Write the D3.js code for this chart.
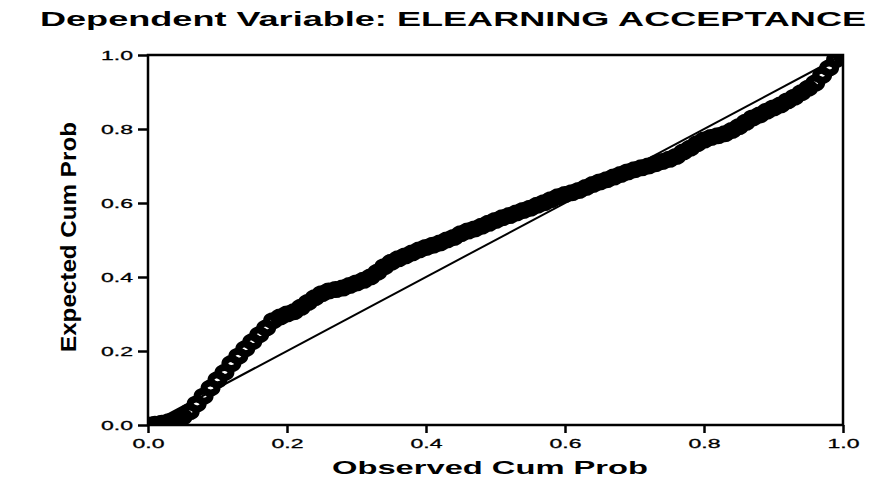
<!DOCTYPE html>
<html>
<head>
<meta charset="utf-8">
<script src="https://cdn.jsdelivr.net/npm/d3@7"></script>
<style>
  body { margin: 0; background: #fff; }
  text { font-family: 'Liberation Sans', Arial, sans-serif; fill: #000; }
</style>
</head>
<body>
<div class="chart"></div>
<script>
const svgWidth = 870;
const svgHeight = 477;

const margin = { top: 55, right: 27, bottom: 52, left: 148 };

const width = svgWidth - margin.left - margin.right;
const height = svgHeight - margin.top - margin.bottom;

// observed cumulative probability (x) of each case
const observed = [
  0.00, 0.01, 0.02, 0.03, 0.04, 0.05, 0.06, 0.07, 0.08, 0.09,
  0.10, 0.11, 0.12, 0.13, 0.14, 0.15, 0.16, 0.17, 0.18, 0.19,
  0.20, 0.21, 0.22, 0.23, 0.24, 0.25, 0.26, 0.27, 0.28, 0.29,
  0.30, 0.31, 0.32, 0.33, 0.34, 0.35, 0.36, 0.37, 0.38, 0.39,
  0.40, 0.41, 0.42, 0.43, 0.44, 0.45, 0.46, 0.47, 0.48, 0.49,
  0.50, 0.51, 0.52, 0.53, 0.54, 0.55, 0.56, 0.57, 0.58, 0.59,
  0.60, 0.61, 0.62, 0.63, 0.64, 0.65, 0.66, 0.67, 0.68, 0.69,
  0.70, 0.71, 0.72, 0.73, 0.74, 0.75, 0.76, 0.77, 0.78, 0.79,
  0.80, 0.81, 0.82, 0.83, 0.84, 0.85, 0.86, 0.87, 0.88, 0.89,
  0.90, 0.91, 0.92, 0.93, 0.94, 0.95, 0.96, 0.97, 0.98, 0.99, 1.00
];

// expected cumulative probability (y)
const expected = [
  0.000, 0.002, 0.005, 0.009, 0.014, 0.022, 0.036, 0.057, 0.078, 0.100,
  0.122, 0.142, 0.166, 0.186, 0.206, 0.225, 0.244, 0.262, 0.282, 0.292,
  0.300, 0.306, 0.318, 0.331, 0.344, 0.355, 0.362, 0.366, 0.370, 0.377,
  0.384, 0.391, 0.400, 0.413, 0.428, 0.440, 0.449, 0.457, 0.465, 0.473,
  0.480, 0.486, 0.492, 0.500, 0.507, 0.517, 0.524, 0.530, 0.537, 0.545,
  0.553, 0.560, 0.566, 0.573, 0.580, 0.586, 0.594, 0.601, 0.609, 0.617,
  0.623, 0.628, 0.634, 0.642, 0.650, 0.657, 0.663, 0.670, 0.677, 0.684,
  0.690, 0.695, 0.700, 0.706, 0.712, 0.718, 0.726, 0.738, 0.748, 0.760,
  0.770, 0.777, 0.782, 0.787, 0.796, 0.806, 0.818, 0.830, 0.838, 0.848,
  0.857, 0.865, 0.876, 0.886, 0.898, 0.910, 0.924, 0.945, 0.965, 0.988, 0.998
];

const tickValues = [0, 0.2, 0.4, 0.6, 0.8, 1.0];
const tickLabels = ['0.0', '0.2', '0.4', '0.6', '0.8', '1.0'];

const title = 'Dependent Variable: ELEARNING ACCEPTANCE';
const xTitle = 'Observed Cum Prob';
const yTitle = 'Expected Cum Prob';

const points = observed.map((d, i) => ({ x: d, y: expected[i] }));

const svg = d3
  .select('.chart')
  .append('svg')
  .attr('width', svgWidth)
  .attr('height', svgHeight);

const chartGroup = svg.append('g')
  .attr('transform', `translate(${margin.left}, ${margin.top})`);

const xScale = d3.scaleLinear().domain([0, 1]).range([0, width]);
const yScale = d3.scaleLinear().domain([0, 1]).range([height, 0]);

// clip so the markers at the corners stay inside the frame
svg.append('defs').append('clipPath')
  .attr('id', 'plot-clip')
  .append('rect')
  .attr('width', width)
  .attr('height', height);

// reference diagonal
chartGroup.append('line')
  .attr('x1', xScale(0))
  .attr('y1', yScale(0))
  .attr('x2', xScale(1))
  .attr('y2', yScale(1))
  .attr('stroke', '#000')
  .attr('stroke-width', 2);

// open circle markers, thick outline so they merge into a band
chartGroup.append('g')
  .attr('clip-path', 'url(#plot-clip)')
  .selectAll('ellipse')
  .data(points)
  .enter()
  .append('ellipse')
  .attr('cx', d => xScale(d.x))
  .attr('cy', d => yScale(d.y))
  .attr('rx', 6.5)
  .attr('ry', 5)
  .attr('fill', 'none')
  .attr('stroke', '#000')
  .attr('stroke-width', 7);

// frame
chartGroup.append('rect')
  .attr('width', width)
  .attr('height', height)
  .attr('fill', 'none')
  .attr('stroke', '#000')
  .attr('stroke-width', 2.5);

// axes
const bottomAxis = d3.axisBottom(xScale)
  .tickValues(tickValues)
  .tickFormat((d, i) => tickLabels[i])
  .tickSize(8)
  .tickPadding(6);

const leftAxis = d3.axisLeft(yScale)
  .tickValues(tickValues)
  .tickFormat((d, i) => tickLabels[i])
  .tickSize(10)
  .tickPadding(5);

const xAxis = chartGroup.append('g')
  .attr('transform', `translate(0, ${height})`)
  .call(bottomAxis);

const yAxis = chartGroup.append('g')
  .call(leftAxis);

[xAxis, yAxis].forEach(axis => {
  axis.select('.domain').remove();
  axis.selectAll('line')
    .attr('stroke', '#000')
    .attr('stroke-width', 2.5);
  axis.selectAll('text')
    .attr('font-size', 13)
    .attr('textLength', 32)
    .attr('lengthAdjust', 'spacingAndGlyphs')
    .style('font-family', "'Liberation Sans', Arial, sans-serif")
    .attr('fill', '#000')
    .attr('stroke', '#000')
    .attr('stroke-width', 0.3);
});

// titles
svg.append('text')
  .attr('x', 40)
  .attr('y', 26)
  .attr('font-size', 21)
  .attr('font-weight', 'bold')
  .attr('textLength', 826)
  .attr('lengthAdjust', 'spacingAndGlyphs')
  .text(title);

svg.append('text')
  .attr('x', 332)
  .attr('y', 474)
  .attr('font-size', 19)
  .attr('font-weight', 'bold')
  .attr('textLength', 316)
  .attr('lengthAdjust', 'spacingAndGlyphs')
  .text(xTitle);

svg.append('text')
  .attr('transform', 'translate(76, 352) rotate(-90)')
  .attr('font-size', 22)
  .attr('font-weight', 'bold')
  .attr('textLength', 230)
  .attr('lengthAdjust', 'spacingAndGlyphs')
  .text(yTitle);
</script>
</body>
</html>
